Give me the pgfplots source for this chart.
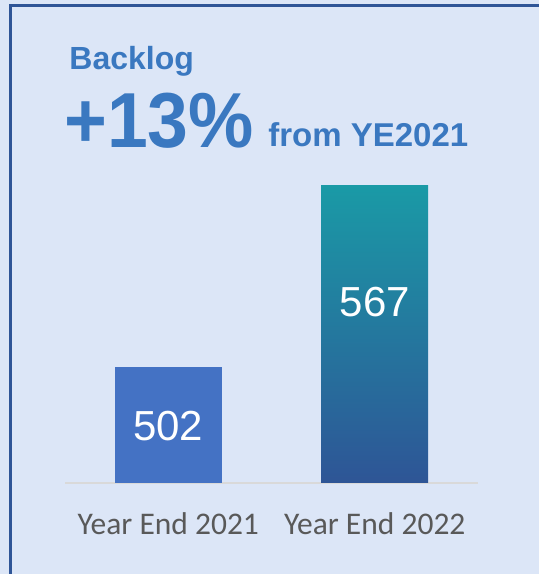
\documentclass[border=0pt]{standalone}
\usepackage{fontspec}
\setmainfont{Liberation Sans}
\newfontfamily\carlito{Carlito}
\usepackage{graphicx}
\usepackage{pgfplots}
\pgfplotsset{compat=1.18}
\definecolor{bgblue}{HTML}{DCE6F7}
\definecolor{frameblue}{HTML}{2F5597}
\definecolor{titleblue}{HTML}{3A78C0}
\definecolor{barblue}{HTML}{4472C4}
\definecolor{barteal}{HTML}{1A9AA6}
\definecolor{bardark}{HTML}{2E5596}
\definecolor{labelgray}{HTML}{595959}
\definecolor{baseline}{HTML}{D9D9D9}
\begin{document}
\begin{tikzpicture}[x=0.5pt,y=0.5pt]
\useasboundingbox (0,0) rectangle (539,574);
\fill[bgblue] (0,0) rectangle (539,574);
\draw[frameblue, line width=1.5pt] (10,0) -- (10,568.7) -- (539,568.7);
% heading
\node[anchor=base west, inner sep=0pt, text=titleblue,
  font=\fontsize{16}{19}\selectfont\bfseries] at (69,504) {Backlog};
\node[anchor=base west, inner sep=0pt, text=titleblue,
  font=\fontsize{39}{46}\selectfont\bfseries] at (64,426) {\scalebox{0.94}[1]{+13\%}};
\node[anchor=base west, inner sep=0pt, text=titleblue,
  font=\fontsize{16.5}{20}\selectfont\bfseries] at (268,427) {from YE2021};
\begin{axis}[
  at={(32.5pt,45.5pt)}, anchor=south west,
  scale only axis, width=206.5pt, height=167.15pt,
  xmin=-0.5, xmax=1.5, ymin=460.6, ymax=580,
  y coord trafo/.code={\pgfmathparse{#1-460.6}},
  y coord inv trafo/.code={\pgfmathparse{#1+460.6}},
  axis x line*=bottom, axis y line=none,
  axis line style={draw=baseline, line width=1pt, -},
  xtick={0,1}, xticklabels={Year End 2021,Year End 2022},
  ytick=\empty, major tick length=0pt,
  xticklabel style={font=\carlito\fontsize{15.75}{18}\selectfont,
    text=labelgray, anchor=base, yshift=-26pt},
]
\addplot[ybar, bar width=53.5pt, bar shift=0pt, fill=barblue, draw=none,
  point meta=explicit symbolic, nodes near coords,
  nodes near coords style={anchor=center, yshift=-29.5pt, text=white,
    font=\fontsize{21}{25}\selectfont}]
  coordinates {(0,502) [502]};
\addplot[ybar, bar width=53.5pt, bar shift=0pt, draw=none,
  top color=barteal, bottom color=bardark,
  point meta=explicit symbolic, nodes near coords,
  nodes near coords style={anchor=center, yshift=-58.5pt, text=white,
    font=\fontsize{21}{25}\selectfont}]
  coordinates {(1,567) [567]};
\end{axis}
\end{tikzpicture}
\end{document}
